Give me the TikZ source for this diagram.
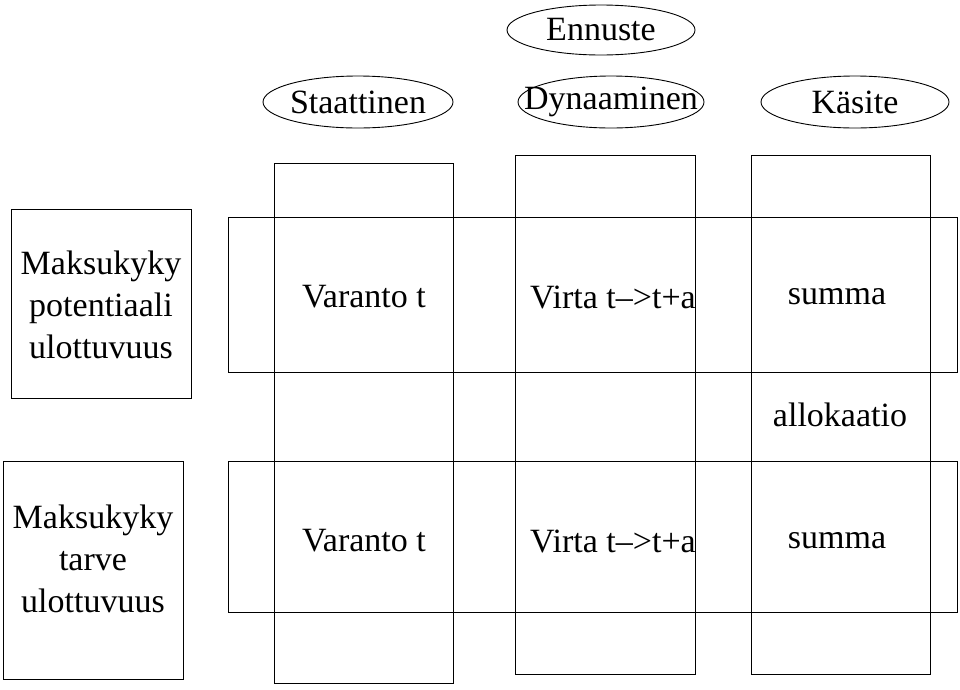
\documentclass[tikz,border=0pt]{standalone}
\usepackage{fontspec}
\setmainfont{Liberation Serif}
\usetikzlibrary{shapes.geometric}
\begin{document}
\begin{tikzpicture}[x=1pt,y=-1pt,
  box/.style={draw,line width=0.9pt},
  oval/.style={draw,ellipse,line width=0.9pt,inner sep=0pt},
  lbl/.style={font=\fontsize{34}{42}\selectfont,align=center,inner sep=0pt}]
\useasboundingbox (0,0) rectangle (960,689);
\draw[box] (274,163) rectangle (453,683);
\draw[box] (515,155) rectangle (695,674);
\draw[box] (751,155) rectangle (930,674);
\draw[box] (228,217) rectangle (957,372);
\draw[box] (228,461) rectangle (957,612);
\draw[box] (11,209) rectangle (191,398);
\draw[box] (3,461) rectangle (183,679);
\node[oval,minimum width=190,minimum height=52] (st) at (358,102) {};
\node[lbl] at (st) {Staattinen};
\node[oval,minimum width=186,minimum height=52] (dy) at (611,102) {};
\node[lbl] at (dy) {Dynaaminen};
\node[oval,minimum width=188,minimum height=52] (ka) at (855,102) {};
\node[lbl] at (ka) {Käsite};
\node[oval,minimum width=188,minimum height=50] (en) at (601,30) {};
\node[lbl] at (en) {Ennuste};
\node[lbl] (p) at (101,305) {Maksukyky\\potentiaali\\ulottuvuus};
\node[lbl] (t) at (93,559) {Maksukyky\\tarve\\ulottuvuus};
\node[lbl] (v1) at (364,297) {Varanto t};
\node[lbl] (w1) at (613,297) {Virta t-->t+a};
\node[lbl] (s1) at (837,297) {summa};
\node[lbl] (al) at (840,415) {allokaatio};
\node[lbl] (v2) at (364,541) {Varanto t};
\node[lbl] (w2) at (613,541) {Virta t-->t+a};
\node[lbl] (s2) at (837,541) {summa};
\end{tikzpicture}
\end{document}
